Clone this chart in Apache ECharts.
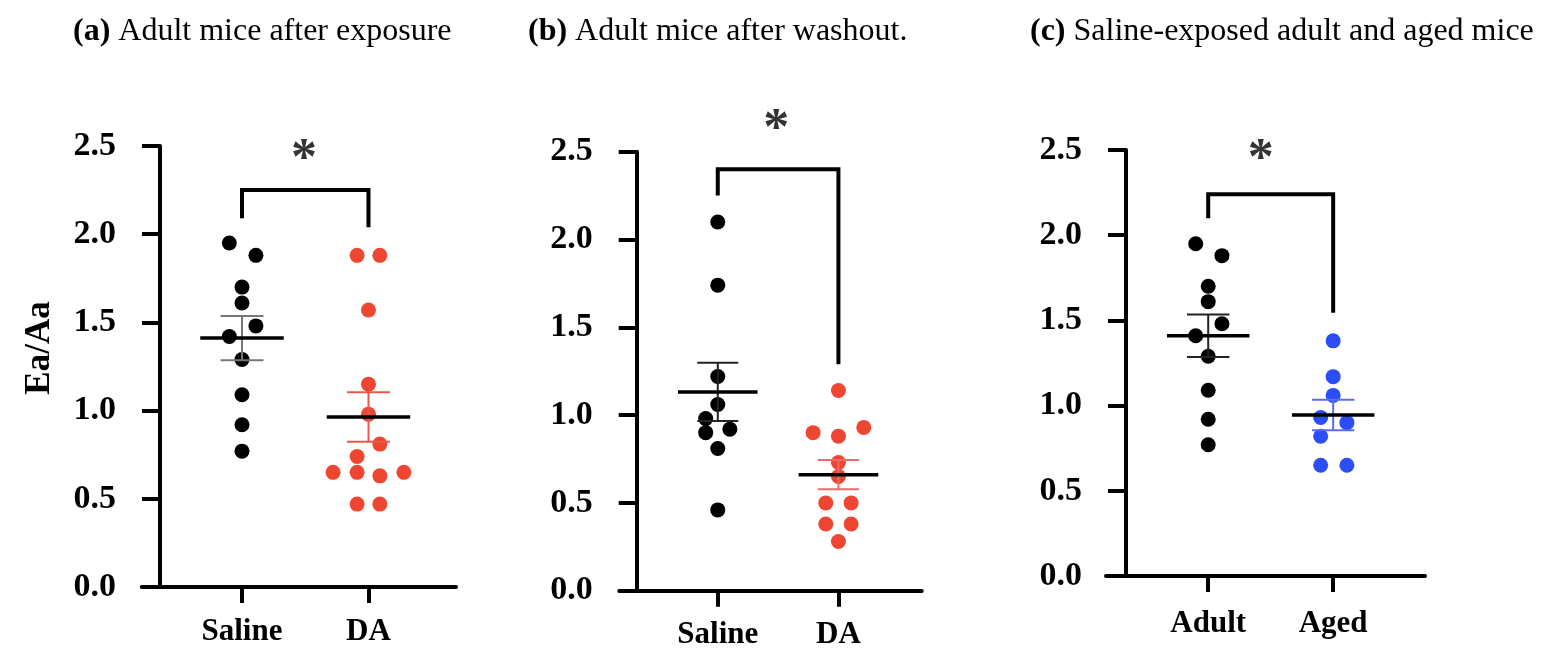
<!DOCTYPE html>
<html>
<head>
<meta charset="utf-8">
<script src="https://cdn.jsdelivr.net/npm/echarts@6/dist/echarts.min.js"></script>
<style>
  html, body { margin: 0; padding: 0; background: #fff; }
  #chart { width: 1541px; height: 649px; }
</style>
</head>
<body>
<div id="chart"></div>
<script>
// ---------- data ----------
const titles = ['(a)', '(b)', '(c)'];
const titleTexts = ['Adult mice after exposure', 'Adult mice after washout.', 'Saline-exposed adult and aged mice'];
const yTicks = [0.0, 0.5, 1.0, 1.5, 2.0, 2.5];
const yTitle = 'Ea/Aa';

const catsA = ['Saline', 'DA'];
const catsB = ['Saline', 'DA'];
const catsC = ['Adult', 'Aged'];

// panel (a)
const salineA    = [1.95, 1.88, 1.70, 1.61, 1.48, 1.42, 1.29, 1.09, 0.92, 0.77];
const salineAOff = [-0.10, 0.11, 0, 0, 0.11, -0.10, 0, 0, 0, 0];
const daA        = [1.88, 1.88, 1.57, 1.15, 0.98, 0.81, 0.74, 0.65, 0.65, 0.63, 0.65, 0.47, 0.47];
const daAOff     = [-0.09, 0.09, 0, 0, 0, 0.09, -0.09, -0.28, -0.09, 0.09, 0.28, -0.09, 0.09];
// panel (b)
const salineB    = [2.10, 1.74, 1.22, 1.06, 0.98, 0.90, 0.92, 0.81, 0.46];
const salineBOff = [0, 0, 0, 0, -0.10, -0.10, 0.10, 0, 0];
const daB        = [1.14, 0.90, 0.88, 0.93, 0.73, 0.65, 0.50, 0.50, 0.38, 0.38, 0.28];
const daBOff     = [0, -0.21, 0, 0.21, 0, 0, -0.105, 0.105, -0.105, 0.105, 0];
// panel (c)
const adultC     = [1.95, 1.88, 1.70, 1.61, 1.48, 1.41, 1.29, 1.09, 0.92, 0.77];
const adultCOff  = [-0.10, 0.11, 0, 0, 0.11, -0.10, 0, 0, 0, 0];
const agedC      = [1.38, 1.17, 1.06, 0.93, 0.90, 0.82, 0.65, 0.65];
const agedCOff   = [0, 0, 0, -0.10, 0.11, -0.10, -0.10, 0.11];

// significance brackets: [left leg bottom, top, right leg bottom], star height
const bracketA = [2.09, 2.25, 2.04]; const starA = 2.47;
const bracketB = [2.25, 2.40, 1.29]; const starB = 2.67;
const bracketC = [2.10, 2.24, 1.545]; const starC = 2.49;
const starLabel = '*';

// ---------- styles / layout ----------
const FONT = '"Liberation Serif", "Times New Roman", Times, serif';
const BLACK = '#000000';
const RED = '#EE4631';
const BLUE = '#2A4DF5';

const grids = [
  { left: 141.7, top: 146,   width: 314.3, height: 441 },
  { left: 619.3, top: 151.7, width: 302.4, height: 439 },
  { left: 1106,  top: 150,   width: 319,   height: 426 }
];
const xRanges = [[0.207, 2.692], [0.184, 2.69], [0.182, 2.735]];
const yOffsets = [-18.3, -17.4, -20];
const titleLefts = [68, 523, 1025];
const xLabelMargins = [29, 29, 32];

function stats(vals) {
  const n = vals.length;
  const m = vals.reduce((a, b) => a + b, 0) / n;
  const sd = Math.sqrt(vals.reduce((a, v) => a + (v - m) * (v - m), 0) / (n - 1));
  return [m, sd / Math.sqrt(n)];
}

function dots(vals, offs, pos, color, gi) {
  return {
    type: 'scatter', xAxisIndex: gi, yAxisIndex: gi,
    symbol: 'circle', symbolSize: 15, z: 2,
    itemStyle: { color: color, opacity: 1 },
    data: vals.map((v, i) => [pos + offs[i], v]),
    silent: true
  };
}

function meanSem(vals, pos, semColor, gi) {
  const [m, s] = stats(vals);
  return {
    type: 'custom', xAxisIndex: gi, yAxisIndex: gi, z: 4, silent: true,
    data: [[pos, m, s]],
    renderItem: function (params, api) {
      const x = api.value(0), mm = api.value(1), ss = api.value(2);
      const hw = 0.33, cw = 0.17;
      const ln = (p1, p2, w, c) => ({
        type: 'line',
        shape: { x1: p1[0], y1: p1[1], x2: p2[0], y2: p2[1] },
        style: { stroke: c, lineWidth: w }
      });
      return {
        type: 'group',
        children: [
          ln(api.coord([x, mm - ss]), api.coord([x, mm + ss]), 2, semColor),
          ln(api.coord([x - cw, mm + ss]), api.coord([x + cw, mm + ss]), 2, semColor),
          ln(api.coord([x - cw, mm - ss]), api.coord([x + cw, mm - ss]), 2, semColor),
          ln(api.coord([x - hw, mm]), api.coord([x + hw, mm]), 3.5, BLACK)
        ]
      };
    }
  };
}

function bracket(b, gi) {
  return {
    type: 'line', xAxisIndex: gi, yAxisIndex: gi, clip: false, silent: true,
    symbol: 'none', z: 3,
    lineStyle: { color: BLACK, width: 4, join: 'miter', cap: 'butt' },
    data: [[1, b[0]], [1, b[1]], [2, b[1]], [2, b[2]]]
  };
}

function star(y, x, gi) {
  return {
    type: 'scatter', xAxisIndex: gi, yAxisIndex: gi, clip: false, silent: true,
    symbolSize: 1, itemStyle: { color: 'rgba(0,0,0,0)' }, z: 5,
    label: {
      show: true, position: 'inside', formatter: starLabel,
      fontFamily: FONT, fontWeight: 'bold', fontSize: 52, color: BLACK,
      offset: [0, 9]
    },
    data: [[x, y]]
  };
}

const catSets = [catsA, catsB, catsC];

const option = {
  backgroundColor: '#ffffff',
  animation: false,
  title: titles.map((t, i) => ({
    left: titleLefts[i], top: 11,
    text: '{b|' + t + '} ' + titleTexts[i],
    textStyle: {
      fontFamily: FONT, fontSize: 32, fontWeight: 'normal', color: BLACK,
      rich: { b: { fontFamily: FONT, fontSize: 32, fontWeight: 'bold', color: BLACK } }
    }
  })),
  grid: grids.map(g => Object.assign({ outerBoundsMode: 'none', containLabel: false }, g)),
  xAxis: grids.map((g, i) => ({
    type: 'value', gridIndex: i,
    min: xRanges[i][0], max: xRanges[i][1],
    splitLine: { show: false },
    axisLine: { show: true, onZero: false, lineStyle: { color: BLACK, width: 4 } },
    axisTick: { show: true, customValues: [1, 2], length: 16, lineStyle: { color: BLACK, width: 4 } },
    axisLabel: {
      show: true, customValues: [1, 2], margin: xLabelMargins[i],
      formatter: v => catSets[i][Math.round(v) - 1],
      fontFamily: FONT, fontWeight: 'bold', fontSize: 31, color: BLACK
    }
  })),
  yAxis: grids.map((g, i) => ({
    type: 'value', gridIndex: i,
    min: yTicks[0], max: yTicks[yTicks.length - 1], interval: 0.5,
    offset: yOffsets[i],
    splitLine: { show: false },
    axisLine: { show: true, onZero: false, lineStyle: { color: BLACK, width: 4 } },
    axisTick: { show: true, length: 18, lineStyle: { color: BLACK, width: 4 } },
    axisLabel: {
      show: true, margin: 44,
      formatter: v => v.toFixed(1),
      fontFamily: FONT, fontWeight: 'bold', fontSize: 34, color: BLACK
    }
  })),
  graphic: [{
    type: 'text', x: 40, y: 348, rotation: Math.PI / 2,
    style: {
      text: yTitle, fill: BLACK, align: 'center', verticalAlign: 'middle',
      font: 'bold 35px ' + FONT
    }
  }],
  series: [
    dots(salineA, salineAOff, 1, BLACK, 0),
    dots(daA, daAOff, 2, RED, 0),
    meanSem(salineA, 1, '#777777', 0),
    meanSem(daA, 2, '#E8584C', 0),
    bracket(bracketA, 0),
    star(starA, 1.49, 0),

    dots(salineB, salineBOff, 1, BLACK, 1),
    dots(daB, daBOff, 2, RED, 1),
    meanSem(salineB, 1, '#222222', 1),
    meanSem(daB, 2, '#EC6A6A', 1),
    bracket(bracketB, 1),
    star(starB, 1.485, 1),

    dots(adultC, adultCOff, 1, BLACK, 2),
    dots(agedC, agedCOff, 2, BLUE, 2),
    meanSem(adultC, 1, '#222222', 2),
    meanSem(agedC, 2, '#5C6CF2', 2),
    bracket(bracketC, 2),
    star(starC, 1.42, 2)
  ]
};

const chart = echarts.init(document.getElementById('chart'), null, { renderer: 'canvas' });
chart.setOption(option);
</script>
</body>
</html>
